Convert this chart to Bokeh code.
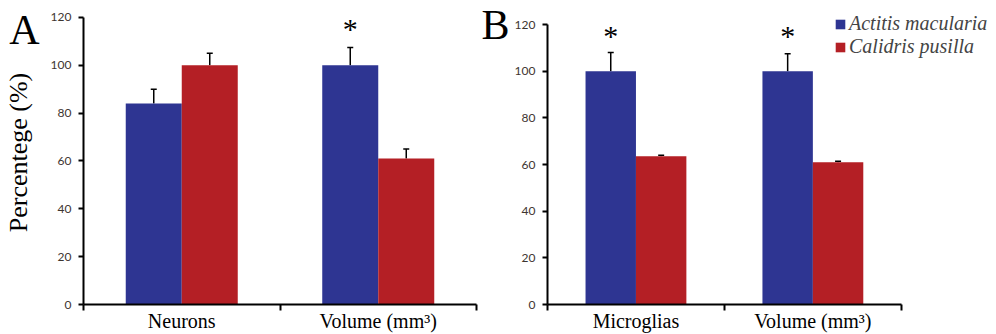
import numpy as np
from bokeh.plotting import figure
from bokeh.models import (Range1d, FixedTicker, Whisker, TeeHead, ColumnDataSource,
                          LinearAxis, Legend, LegendItem)
from bokeh.layouts import row
from bokeh.core.properties import value
from bokeh.embed import file_html
from bokeh.resources import INLINE

# ---------------- data ----------------
species = ["Actitis macularia", "Calidris pusilla"]

panel_a_categories = ["Neurons", "Volume (mm³)"]
panel_a_actitis = [84, 100]
panel_a_actitis_err = [6, 7.5]
panel_a_calidris = [100, 61]
panel_a_calidris_err = [5, 4]
panel_a_significant = [False, True]

panel_b_categories = ["Microglias", "Volume (mm³)"]
panel_b_actitis = [100, 100]
panel_b_actitis_err = [8, 7.5]
panel_b_calidris = [63.5, 61]
panel_b_calidris_err = [0.5, 0.4]
panel_b_significant = [True, True]

y_ticks = [0, 20, 40, 60, 80, 100, 120]
y_label = "Percentege (%)"

# ---------------- style ----------------
BLUE = "#2E3592"
RED = "#B41F25"
SERIF = "Liberation Serif"
TICKFONT = "Lato"
BAR_W = 0.285
STAR_Y = 115.4
HEIGHT = 334
BOTTOM = 30


def make_panel(cats, a_vals, a_err, c_vals, c_err, sig, letter, letter_y,
               width, left, right, x_end, y_end, letter_standoff, ylabel=None):
    p = figure(width=width, height=HEIGHT,
               min_border_left=left, min_border_right=right,
               min_border_top=0, min_border_bottom=BOTTOM,
               x_range=Range1d(0, x_end), y_range=Range1d(0, y_end),
               output_backend="svg", toolbar_location=None)
    p.outline_line_color = None
    p.xgrid.visible = False
    p.ygrid.visible = False

    centers = np.arange(len(cats)) + 0.5
    xa = centers - BAR_W / 2
    xc = centers + BAR_W / 2
    src_a = ColumnDataSource(dict(x=xa, top=a_vals,
                                  up=np.array(a_vals) + np.array(a_err)))
    src_c = ColumnDataSource(dict(x=xc, top=c_vals,
                                  up=np.array(c_vals) + np.array(c_err)))
    ra = p.vbar(x="x", top="top", width=BAR_W, source=src_a,
                fill_color=BLUE, line_color=None)
    rc = p.vbar(x="x", top="top", width=BAR_W, source=src_c,
                fill_color=RED, line_color=None)
    for src in (src_a, src_c):
        p.add_layout(Whisker(base="x", lower="top", upper="up", source=src,
                             line_color="black", line_width=1.5,
                             upper_head=TeeHead(size=6, line_color="black", line_width=1.5),
                             lower_head=None))

    # significance asterisks
    sx = [x for x, s in zip(xa, sig) if s]
    p.text(x=sx, y=[STAR_Y] * len(sx), text=["*"] * len(sx), text_font=value(SERIF),
           text_font_size="30px", text_align="center", text_baseline="middle",
           text_color="black")

    # y axis
    p.yaxis.ticker = FixedTicker(ticks=y_ticks)
    p.yaxis.bounds = (0, 120)
    p.yaxis.major_tick_out = 5
    p.yaxis.major_tick_in = 0
    p.yaxis.minor_tick_line_color = None
    p.yaxis.minor_tick_out = 0
    p.yaxis.axis_line_width = 2
    p.yaxis.major_tick_line_width = 2
    p.yaxis.major_label_text_font = TICKFONT
    p.yaxis.major_label_text_font_size = "12px"
    p.yaxis.major_label_text_color = "#3d3530"
    p.yaxis.major_label_standoff = 7

    # outer axis carrying the panel letter (and y label)
    outer = LinearAxis(ticker=FixedTicker(ticks=[letter_y]),
                       major_label_overrides={float(letter_y): letter},
                       axis_line_color=None, major_tick_line_color=None,
                       minor_tick_line_color=None, major_tick_out=0, major_tick_in=0,
                       minor_tick_out=0, minor_tick_in=0,
                       major_label_text_font=SERIF, major_label_text_font_size="42px",
                       major_label_text_color="black",
                       major_label_standoff=letter_standoff)
    if ylabel:
        outer.axis_label = ylabel
        outer.axis_label_text_font = SERIF
        outer.axis_label_text_font_style = "normal"
        outer.axis_label_text_font_size = "26px"
        outer.axis_label_text_color = "black"
        outer.axis_label_standoff = -27
    p.add_layout(outer, "left")

    # x axis: labels at category centres, ticks at category boundaries
    p.xaxis.ticker = FixedTicker(ticks=list(centers),
                                 minor_ticks=list(range(len(cats) + 1)))
    p.xaxis.bounds = (0, len(cats))
    p.xaxis.major_label_overrides = {float(c): n for c, n in zip(centers, cats)}
    p.xaxis.major_tick_line_color = None
    p.xaxis.major_tick_out = 0
    p.xaxis.major_tick_in = 0
    p.xaxis.minor_tick_out = 6
    p.xaxis.minor_tick_in = 0
    p.xaxis.minor_tick_line_width = 2
    p.xaxis.axis_line_width = 2
    p.xaxis.major_label_text_font = SERIF
    p.xaxis.major_label_text_font_size = "20px"
    p.xaxis.major_label_text_line_height = 1.0
    p.xaxis.major_label_text_color = "black"
    p.xaxis.major_label_standoff = -1
    return p, ra, rc


pA, _, _ = make_panel(panel_a_categories, panel_a_actitis, panel_a_actitis_err,
                      panel_a_calidris, panel_a_calidris_err, panel_a_significant,
                      "A", 120, 478, 83, 2, 2, 127.1, 8, ylabel=y_label)
pB, rb_a, rb_c = make_panel(panel_b_categories, panel_b_actitis, panel_b_actitis_err,
                            panel_b_calidris, panel_b_calidris_err, panel_b_significant,
                            "B", 121, 518, 68, 0, 2.538, 130.3, 2)

legend = Legend(items=[LegendItem(label=species[0], renderers=[rb_a]),
                       LegendItem(label=species[1], renderers=[rb_c])],
                location=(287, 246), orientation="vertical",
                glyph_width=12, glyph_height=12, label_standoff=3,
                label_text_font=SERIF, label_text_font_style="italic",
                label_text_font_size="20px", label_height=20,
                spacing=0, padding=0, margin=0,
                border_line_color=None, background_fill_alpha=0)
pB.add_layout(legend)

layout = row(pA, pB)
open("out.html", "w").write(file_html(layout, INLINE))
